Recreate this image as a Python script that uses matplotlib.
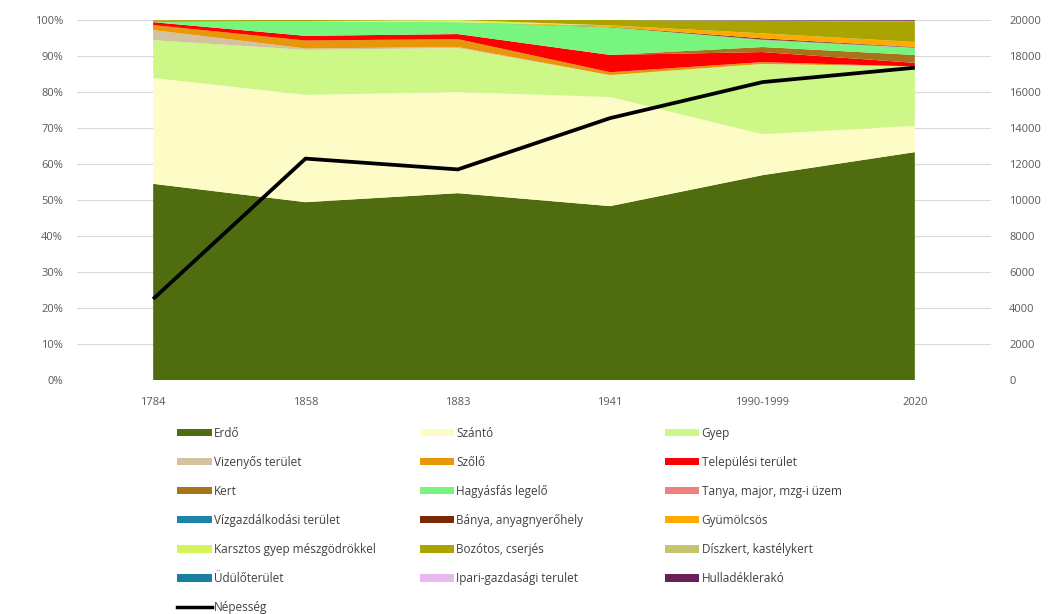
import matplotlib
matplotlib.use('Agg')
import matplotlib.pyplot as plt
import numpy as np
from matplotlib.patches import Patch
from matplotlib.lines import Line2D

plt.rcParams['font.family'] = ['Open Sans', 'DejaVu Sans']

# data (% of area)
years = ['1784', '1858', '1883', '1941', '1990-1999', '2020']
erdo       = [54.5, 49.4, 51.9, 48.3, 56.9, 63.3]
szanto     = [29.4, 29.8, 28.1, 30.3, 11.4, 7.3]
gyep       = [10.5, 12.5, 12.2, 6.1, 19.5, 16.5]
vizenyos   = [2.8, 0.4, 0.3, 0.0, 0.0, 0.0]
szolo      = [1.4, 2.2, 2.2, 0.8, 0.5, 0.0]
telepulesi = [0.8, 1.3, 1.4, 4.8, 2.8, 1.0]
kert       = [0.0, 0.0, 0.0, 0.0, 1.4, 2.2]
hagyasfas  = [0.0, 4.1, 3.3, 7.7, 1.9, 1.9]
tanya      = [0.4, 0.0, 0.0, 0.0, 0.1, 0.1]
vizgazd    = [0.0, 0.0, 0.0, 0.0, 0.1, 0.1]
banya      = [0.0, 0.0, 0.0, 0.1, 0.3, 0.1]
gyumolcsos = [0.0, 0.0, 0.0, 0.4, 1.4, 1.4]
karsztos   = [0.0, 0.0, 0.6, 0.0, 0.0, 0.0]
bozotos    = [0.2, 0.3, 0.0, 1.5, 3.45, 5.7]
diszkert   = [0.0, 0.0, 0.0, 0.0, 0.05, 0.05]
udulo      = [0.0, 0.0, 0.0, 0.0, 0.05, 0.1]
ipari      = [0.0, 0.0, 0.0, 0.0, 0.05, 0.05]
hulladek   = [0.0, 0.0, 0.0, 0.0, 0.1, 0.2]

nepesseg = [4500, 12300, 11700, 14550, 16550, 17350]

labels = ['Erdő', 'Szántó', 'Gyep', 'Vizenyős terület', 'Szőlő', 'Települési terület',
          'Kert', 'Hagyásfás legelő', 'Tanya, major, mzg-i üzem', 'Vízgazdálkodási terület',
          'Bánya, anyagnyerőhely', 'Gyümölcsös', 'Karsztos gyep mészgödrökkel',
          'Bozótos, cserjés', 'Díszkert, kastélykert', 'Üdülőterület',
          'Ipari-gazdasági terulet', 'Hulladéklerakó']
colors = ['#4f6d0e', '#fdfcc6', '#cdf786', '#d3c29e', '#e8960a', '#ff0000',
          '#a8741a', '#77f57f', '#f08080', '#1d84a8', '#7a2a05', '#ffaa00',
          '#d4f55a', '#aaa400', '#c4c46a', '#1a7f9e', '#e8b8f0', '#6b1f5a']

series = np.array([erdo, szanto, gyep, vizenyos, szolo, telepulesi, kert, hagyasfas,
                   tanya, vizgazd, banya, gyumolcsos, karsztos, bozotos, diszkert,
                   udulo, ipari, hulladek])
shares = series / series.sum(axis=0)  # 100% stacked

## plot
fs = 8.
gray = '#595959'
fig = plt.figure(figsize=(10.49, 6.14), dpi=100)
ax = fig.add_axes([0.0734, 0.3811, 0.8713, 0.5863])
x = np.arange(len(years))

ax.stackplot(x, *shares, colors=colors, labels=labels, linewidth=0)
ax.set_xlim(-0.5, len(years) - 0.5)
ax.set_ylim(0, 1)
ax.set_yticks(np.arange(0, 1.01, 0.1))
ax.set_yticklabels([f'{int(round(v*100))}%' for v in np.arange(0, 1.01, 0.1)])
ax.set_xticks(x)
ax.set_xticklabels(years)
ax.set_axisbelow(True)
ax.grid(axis='y', color='#d9d9d9', lw=0.8)
ax.tick_params(length=0, labelsize=fs, colors=gray)
ax.tick_params(axis='x', pad=12)
ax.tick_params(axis='y', pad=10)
for s in ax.spines.values():
	s.set_visible(False)

ax2 = ax.twinx()
ax2.plot(x, nepesseg, color='black', lw=2.7, solid_capstyle='butt')
ax2.set_ylim(0, 20000)
ax2.set_yticks(np.arange(0, 20001, 2000))
ax2.tick_params(length=0, labelsize=fs, colors=gray, pad=13)
for s in ax2.spines.values():
	s.set_visible(False)

## legend: three columns, row-wise order like Excel
handles = [Patch(fc=c, ec='none') for c in colors]
line_h = Line2D([], [], color='black', lw=2.5)
all_h = handles + [line_h]
all_l = labels + ['Népesség']
col_x = [0.169, 0.400, 0.634]
for k in range(3):
	h = all_h[k::3]
	l = all_l[k::3]
	fig.legend(h, l, loc='upper left', bbox_to_anchor=(col_x[k], 0.305),
	           frameon=False, fontsize=fs + 0.5, ncol=1, borderpad=0, borderaxespad=0,
	           handlelength=2.9, handleheight=0.6, handletextpad=0.2, labelspacing=1.36,
	           labelcolor='#404040')

fig.savefig('out.png', dpi=100)
